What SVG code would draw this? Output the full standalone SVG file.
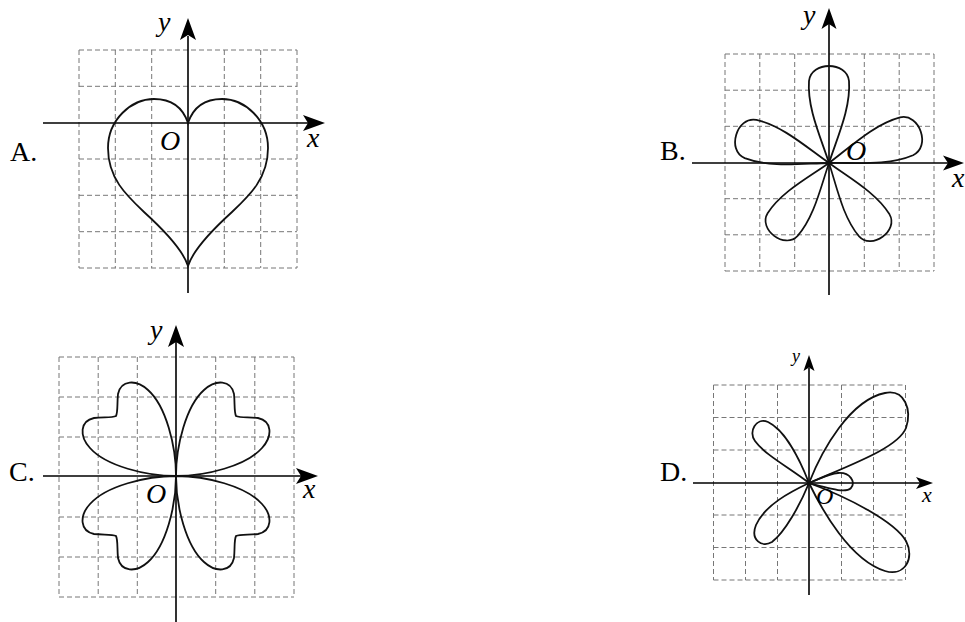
<svg xmlns="http://www.w3.org/2000/svg" xmlns:xlink="http://www.w3.org/1999/xlink" width="965" height="622" viewBox="0 0 965 622">
<style>
.g{fill:none;stroke:#777;stroke-width:1;stroke-dasharray:5 3}
.ax{fill:none;stroke:#000;stroke-width:1.6}
.ah{fill:#000;stroke:none}
.c{fill:none;stroke:#111;stroke-width:1.8}
.t{font-family:"Liberation Serif","Times New Roman",serif;font-size:28px;fill:#000}
.i{font-style:italic}
</style>
<defs>
<path id="petal" d="M0,0 C25,-8 55,-22 82,-20 C102,-18 102,18 82,20 C55,22 25,8 0,0 Z"/>
<path id="hp" d="M0,0 C0,-30 10,-70 28,-86 C40,-97 55,-96 58,-82 C59,-72 58,-64 60,-60 C64,-58 72,-59 82,-58 C96,-55 97,-40 86,-28 C70,-10 30,0 0,0 Z"/>
</defs>
<rect width="965" height="622" fill="#fff"/>

<g id="panelA">
<path class="g" d="M79,50V268M115.3,50V268M151.7,50V268M224.3,50V268M260.7,50V268M297,50V268M79,50H297M79,86.3H297M79,159H297M79,195.3H297M79,231.7H297M79,268H297"/>
<path class="ax" d="M43,123H310M188,293V36"/>
<path class="ah" d="M325,123L303,115L308,123L303,131Z"/>
<path class="ah" d="M188,18L180,40L188,35L196,40Z"/>
<path class="c" d="M188,123 C194,105 208,99 222,99 C245,99 268,120 268,148 C268,178 250,195 232,212 C210,232 193,250 188,266 C183,250 166,232 144,212 C126,195 108,178 108,148 C108,120 131,99 154,99 C168,99 182,105 188,123 Z"/>
<text class="t" x="10" y="161">A.</text>
<text class="t i" x="158" y="31">y</text>
<text class="t i" x="307" y="147">x</text>
<text class="t i" x="160" y="150">O</text>
</g>

<g id="panelB">
<path class="g" d="M725,54V271M759.8,54V271M794.7,54V271M864.3,54V271M899.2,54V271M934,54V271M725,54H934M725,90.2H934M725,126.3H934M725,198.7H934M725,234.8H934M725,271H934"/>
<path class="ax" d="M692,163H950M829,295V24"/>
<path class="ah" d="M964,163L943,155.5L948,163L943,170.5Z"/>
<path class="ah" d="M829,8L821.5,29L829,24L836.5,29Z"/>
<use class="c" xlink:href="#petal" transform="translate(829,163) rotate(-90)"/>
<use class="c" xlink:href="#petal" transform="translate(829,163) rotate(-19)"/>
<use class="c" xlink:href="#petal" transform="translate(829,163) rotate(-163)"/>
<use class="c" xlink:href="#petal" transform="translate(829,163) rotate(127) scale(0.94)"/>
<use class="c" xlink:href="#petal" transform="translate(829,163) rotate(54) scale(0.94)"/>
<text class="t" x="660" y="160">B.</text>
<text class="t i" x="803" y="24">y</text>
<text class="t i" x="952" y="187">x</text>
<text class="t i" x="846" y="160">O</text>
</g>

<g id="panelC">
<path class="g" d="M59,357V597M98.2,357V597M137.3,357V597M215.7,357V597M254.8,357V597M294,357V597M59,357H294M59,397H294M59,437H294M59,517H294M59,557H294M59,597H294"/>
<path class="ax" d="M43,476H302M176,622V342"/>
<path class="ah" d="M318,476L296,468L301,476L296,484Z"/>
<path class="ah" d="M176,325L168,347L176,342L184,347Z"/>
<use class="c" xlink:href="#hp" transform="translate(176,476)"/>
<use class="c" xlink:href="#hp" transform="translate(176,476) scale(-1,1)"/>
<use class="c" xlink:href="#hp" transform="translate(176,476) scale(-1,-1)"/>
<use class="c" xlink:href="#hp" transform="translate(176,476) scale(1,-1)"/>
<text class="t" x="9" y="481">C.</text>
<text class="t i" x="150" y="339">y</text>
<text class="t i" x="303" y="498">x</text>
<text class="t i" x="146" y="503">O</text>
</g>

<g id="panelD">
<path class="g" d="M713.5,385V580M745.5,385V580M777.5,385V580M841.5,385V580M873.5,385V580M905.5,385V580M713.5,385H905.5M713.5,417.5H905.5M713.5,450H905.5M713.5,515H905.5M713.5,547.5H905.5M713.5,580H905.5"/>
<path class="ax" d="M693,483H921M809,595V368"/>
<path class="ah" d="M933,483L916,477L920,483L916,489Z"/>
<path class="ah" d="M809,355L803.5,371L809,367.5L814.5,371Z"/>
<path class="c" d="M809,483 C822,450 850,400 885,393 C905,389 912,410 906,428 C898,448 850,465 809,483 Z"/>
<path class="c" d="M809,483 C800,460 785,430 768,422 C756,417 748,432 755,441 C765,455 790,468 809,483 Z"/>
<path class="c" d="M809,483 C790,492 765,505 756,525 C750,540 762,548 772,542 C785,532 800,505 809,483 Z"/>
<path class="c" d="M809,483 C822,510 850,560 885,571 C905,577 915,558 906,541 C895,522 850,498 809,483 Z"/>
<path class="c" d="M809,483 C820,479 828,474 838,473 C850,472 856,482 851,488 C846,493 835,490 809,483 Z"/>
<text class="t" x="660" y="481">D.</text>
<text class="t i" x="792" y="362" style="font-size:18px">y</text>
<text class="t i" x="922" y="502" style="font-size:22px">x</text>
<text class="t i" x="816" y="504" style="font-size:24px">O</text>
</g>
</svg>
